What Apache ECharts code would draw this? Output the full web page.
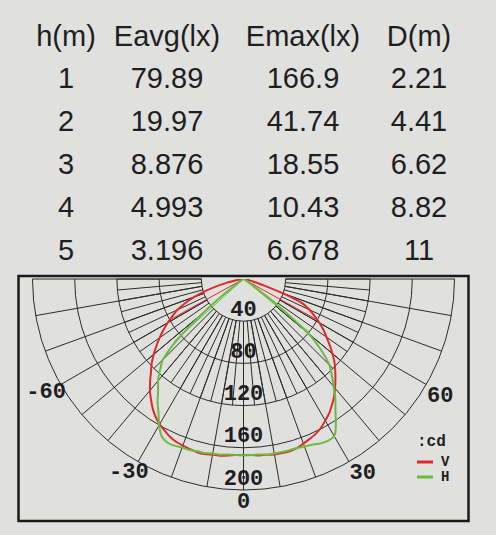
<!DOCTYPE html>
<html>
<head>
<meta charset="utf-8">
<script src="https://cdn.jsdelivr.net/npm/echarts@6/dist/echarts.min.js"></script>
<style>
html,body{margin:0;padding:0;background:#e0e0de;}
#c{width:496px;height:535px;}
</style>
</head>
<body>
<div id="c"></div>
<script>
// ---- table data ----
const tableHeader = ['h(m)', 'Eavg(lx)', 'Emax(lx)', 'D(m)'];
const heights = ['1', '2', '3', '4', '5'];
const eavg = ['79.89', '19.97', '8.876', '4.993', '3.196'];
const emax = ['166.9', '41.74', '18.55', '10.43', '6.678'];
const dist = ['2.21', '4.41', '6.62', '8.82', '11'];

// ---- polar data (cd) ----
const angles = [-90,-87.5,-85,-82.5,-80,-77.5,-75,-72.5,-70,-67.5,-65,-62.5,-60,-57.5,-55,-52.5,-50,-47.5,-45,-42.5,-40,-37.5,-35,-32.5,-30,-27.5,-25,-22.5,-20,-17.5,-15,-12.5,-10,-7.5,-5,-2.5,0,
  2.5,5,7.5,10,12.5,15,17.5,20,22.5,25,27.5,30,32.5,35,37.5,40,42.5,45,47.5,50,52.5,55,57.5,60,62.5,65,67.5,70,72.5,75,77.5,80,82.5,85,87.5,90];
const vValues = [0,0,2,4,8,16,26,38,50,60,69,76,83,90,97,104,111,118,124,131,138,144,150,155,159,162,165,167,168,169,170,170,169,169,168,167,167,
  167,168,168,169,169,169,168,166,164,162,159,155,151,146,141,135,129,123,117,110,103,96,90,83,76,69,60,40,20,10,6,3,1,0,0,0];
const hValues = [0,0,0,0,0,0,0,0,0,0,0,0,0,1,5,20,50,85,108,117,126,133,142,150,160,168,171,171,170,170,169,169,168,168,167,167,167,
  167,167,168,168,168,168,168,169,170,172,173,172,163,152,143,133,124,115,100,80,40,10,2,0,0,0,0,0,0,0,0,0,0,0,0,0];
// thin closing strokes from the centre
const vChordAngles = [-61, 61];
const vChordValues = [80, 79];
const hChordAngles = [-48, 51];
const hChordValues = [88, 80];

const radiusTicks = [40, 80, 120, 160, 200];
const angleLabels = [-60, -30, 0, 30, 60];
const seriesNames = ['V', 'H'];
const unitLabel = ':cd';

// ---- layout / style ----
const CENTER = [243.5, 279];
const R = 211;
const GRID = '#2b2b2b';
const TXT = '#1e1e1e';
const MONO = 'Liberation Mono';
const RED = '#e02a2a';
const GREEN = '#6abb42';

const chart = echarts.init(document.getElementById('c'), null, {renderer: 'svg', width: 496, height: 535});

function pairs(rs, as) { return rs.map((r, i) => [r, as[i]]); }

function halfAngle(extra) {
  return Object.assign({
    type: 'value', min: -90, max: 90, startAngle: 180, endAngle: 360, clockwise: false,
    axisLine: {show: false}, axisTick: {show: false},
    splitLine: {show: false}, axisLabel: {show: false}
  }, extra);
}
const labelFont = {fontFamily: MONO, fontSize: 22, fontWeight: 'bold', color: TXT};

// table text
const colX = [66, 167, 303, 419];
const rowY = [36, 77.5, 121, 164, 207, 250];
const tableCols = [heights, eavg, emax, dist];
const graphics = [];
function addText(text, x, y, font) {
  graphics.push({type: 'text', silent: true, z: 10, style: {
    text: text, x: x, y: y, font: font, fill: TXT,
    align: 'center', textAlign: 'center', verticalAlign: 'middle', textVerticalAlign: 'middle'}});
}
tableHeader.forEach((h, c) => addText(h, colX[c], rowY[0], '29px "Liberation Sans"'));
tableCols.forEach((col, c) => col.forEach((v, r) => addText(v, colX[c], rowY[r + 1], '29px "Liberation Sans"')));
graphics.push({type: 'text', silent: true, z: 10, style: {
  text: unitLabel, x: 417, y: 442, font: 'bold 16px "Liberation Mono"', fill: TXT,
  align: 'left', textAlign: 'left', verticalAlign: 'middle', textVerticalAlign: 'middle'}});
graphics.push({type: 'rect', silent: true, z: 10,
  shape: {x: 18.5, y: 276, width: 450, height: 245},
  style: {fill: 'none', stroke: '#1a1a1a', lineWidth: 2.5}});

const option = {
  animation: false,
  backgroundColor: '#e0e0de',
  polar: [
    {center: CENTER, radius: [0, R]},
    {center: CENTER, radius: [42, R]},
    {center: CENTER, radius: [42, 126.6]},
    {center: CENTER, radius: [0, R]}
  ],
  angleAxis: [
    halfAngle({polarIndex: 0, interval: 10,
      axisLabel: Object.assign({show: true, margin: 1,
        formatter: v => (v >= 0 && angleLabels.includes(v)) ? String(v) : ''}, labelFont)}),
    halfAngle({polarIndex: 1, interval: 10,
      splitLine: {show: true, lineStyle: {color: GRID, width: 1}},
      axisLabel: Object.assign({show: true, margin: -6,
        formatter: v => (v < -45 && angleLabels.includes(v)) ? String(v) : ''}, labelFont)}),
    halfAngle({polarIndex: 2, interval: 5,
      splitLine: {show: true, lineStyle: {color: GRID, width: 1}},
      axisLabel: Object.assign({show: true, margin: 63,
        formatter: v => (v < 0 && v > -45 && angleLabels.includes(v)) ? '{d|' + v + '}' : '',
        rich: {d: Object.assign({padding: [18, 0, 0, 0]}, labelFont)}}, labelFont)}),
    {polarIndex: 3, type: 'value', min: -180, max: 180, startAngle: 270, clockwise: false, show: false}
  ],
  radiusAxis: [
    {polarIndex: 0, type: 'value', min: 0, max: 200, interval: 40,
      axisLine: {show: false}, axisTick: {show: false}, axisLabel: {show: false},
      splitLine: {show: true, lineStyle: {color: GRID, width: 1}}},
    {polarIndex: 1, type: 'value', min: 0, max: 200, show: false},
    {polarIndex: 2, type: 'value', min: 0, max: 200, show: false},
    {polarIndex: 3, type: 'value', min: 0, max: 200, interval: 40,
      axisLine: {show: false}, axisTick: {show: false}, splitLine: {show: false},
      axisLabel: Object.assign({show: true, margin: 0, align: 'center', verticalAlign: 'bottom',
        showMinLabel: false, formatter: v => radiusTicks.includes(v) ? String(v) : ''}, labelFont)}
  ],
  legend: {
    data: seriesNames, orient: 'vertical', left: 412, top: 450,
    itemWidth: 16, itemHeight: 3, itemGap: 1, icon: 'rect', selectedMode: false,
    textStyle: {fontFamily: MONO, fontWeight: 'bold', fontSize: 14, lineHeight: 14, color: TXT, padding: [0, 0, 0, 3]}
  },
  graphic: graphics,
  series: [
    {name: seriesNames[0], type: 'line', coordinateSystem: 'polar', polarIndex: 0,
      data: pairs(vValues, angles), symbol: 'none', smooth: 0.25, silent: true,
      lineStyle: {color: RED, width: 2}, itemStyle: {color: RED}, z: 3},
    {name: seriesNames[1], type: 'line', coordinateSystem: 'polar', polarIndex: 0,
      data: pairs(hValues, angles), symbol: 'none', smooth: 0.25, silent: true,
      lineStyle: {color: GREEN, width: 2}, itemStyle: {color: GREEN}, z: 4},
    ...vChordAngles.map((a, i) => ({type: 'line', coordinateSystem: 'polar', polarIndex: 0,
      data: [[0, a], [vChordValues[i], a]], symbol: 'none', silent: true,
      lineStyle: {color: RED, width: 1}, z: 3})),
    ...hChordAngles.map((a, i) => ({type: 'line', coordinateSystem: 'polar', polarIndex: 0,
      data: [[0, a], [hChordValues[i], a]], symbol: 'none', silent: true,
      lineStyle: {color: GREEN, width: 1}, z: 4}))
  ]
};
chart.setOption(option);
</script>
</body>
</html>
